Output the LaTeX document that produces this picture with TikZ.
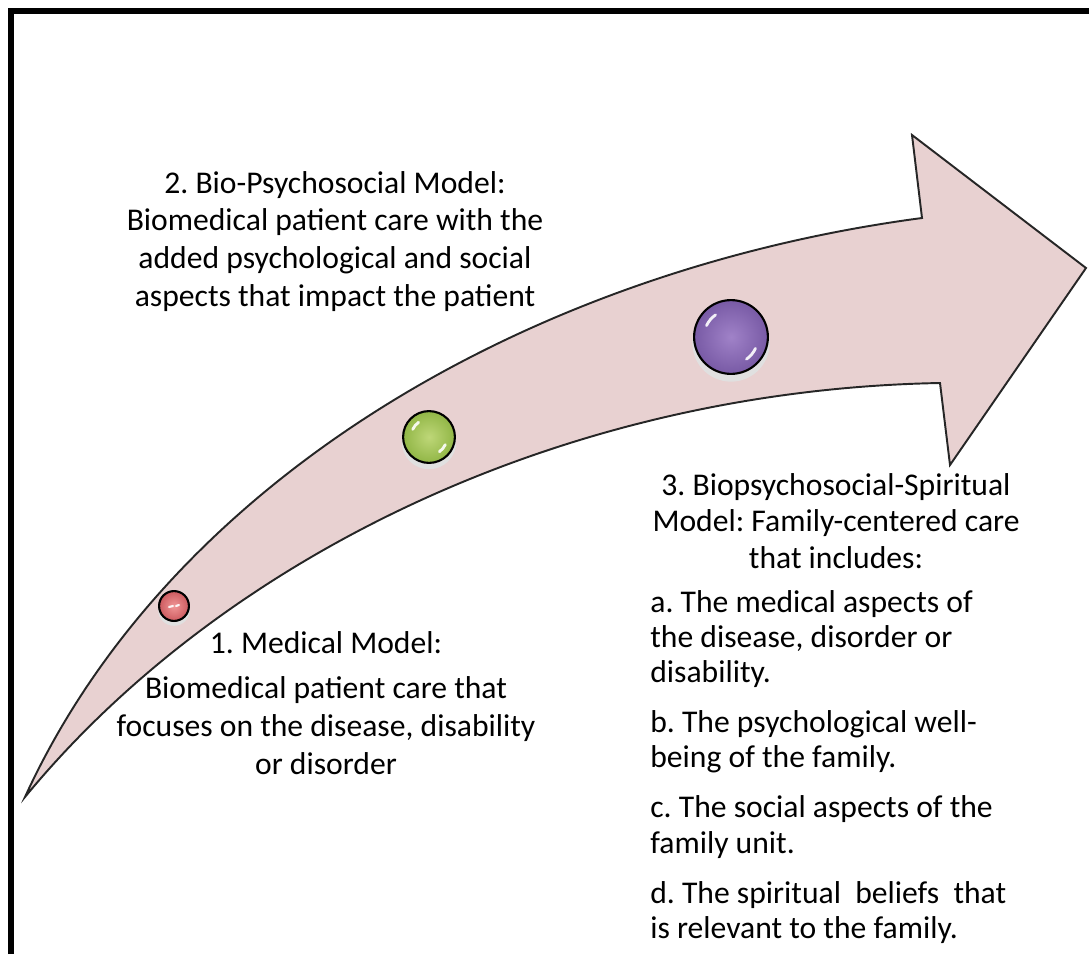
\documentclass[tikz,border=0pt]{standalone}
\usepackage{fontspec}
\setmainfont{Carlito}
\usetikzlibrary{calc}
\frenchspacing
\definecolor{arrowfill}{RGB}{232,209,209}
\definecolor{redin}{RGB}{240,150,150}
\definecolor{redout}{RGB}{205,90,95}
\definecolor{greenin}{RGB}{190,215,120}
\definecolor{greenout}{RGB}{145,182,70}
\definecolor{purpin}{RGB}{160,130,200}
\definecolor{purpout}{RGB}{120,90,165}
\begin{document}
\frenchspacing
\begin{tikzpicture}[x=0.02cm,y=-0.02cm]
\tikzset{
  gem/.style={circle, draw=black, line width=1.2pt, inner sep=0pt},
  hl/.style={white, line width=1.6pt, line cap=round, opacity=0.9},
  shadowdisc/.style={circle, fill=black!12, inner sep=0pt, draw=none},
  lbl/.style={font=\fontsize{18}{21.4}\selectfont, align=center, inner sep=0pt, anchor=north}
}
\useasboundingbox (0,0) rectangle (1089,954);
% frame (top and left only)
\draw[line width=3.4pt, line join=miter] (11,954) -- (11,11) -- (1089,11);
% curved arrow
\draw[fill=arrowfill, draw=black!85, line width=1.1pt, line join=miter]
  (25,797) .. controls (170,480) and (530,270) .. (922,218)
  -- (912,135) -- (1086,268) -- (950,465) -- (940,383)
  .. controls (560,390) and (220,560) .. (25,797) -- cycle;
% shadows
\node[shadowdisc, minimum size=18pt] at (174,610) {};
\node[shadowdisc, minimum size=31pt] at (429,442) {};
\node[shadowdisc, minimum size=44pt] at (731,343) {};
% balls
\node[gem, minimum size=17pt, inner color=redin, outer color=redout] (b1) at (174,606) {};
\node[gem, minimum size=29.5pt, inner color=greenin, outer color=greenout] (b2) at (429,437) {};
\node[gem, minimum size=42pt, inner color=purpin, outer color=purpout] (b3) at (731,337) {};
% highlights
\draw[hl] ($(b3.center)+(205:27)$) arc[start angle=205, end angle=235, radius=27];
\draw[hl] ($(b3.center)+(25:27)$) arc[start angle=25, end angle=55, radius=27];
\draw[hl] ($(b2.center)+(205:18)$) arc[start angle=205, end angle=235, radius=18];
\draw[hl] ($(b2.center)+(25:18)$) arc[start angle=25, end angle=55, radius=18];
\draw[hl, line width=1.2pt] ($(b1.center)+(-5,1)$) -- ($(b1.center)+(-1,0)$);
\draw[hl, line width=1.2pt] ($(b1.center)+(2,0)$) -- ($(b1.center)+(5,-1)$);
% texts
\node[lbl] (t2) at (335,171) {2. Bio-Psychosocial Model:\\Biomedical patient care with the\\added psychological and social\\aspects that impact the patient};
\node[lbl] (t1) at (326,631) {1. Medical Model:\\[4.5pt]Biomedical patient care that\\focuses on the disease, disability\\or disorder};
\node[lbl, font=\fontsize{18}{20.8}\selectfont] (t3) at (836,473) {3. Biopsychosocial-Spiritual\\Model: Family-centered care\\that includes:};
\node[lbl, align=left, anchor=north west, font=\fontsize{18}{20}\selectfont] (t3l) at (650,590) {a. The medical aspects of\\the disease, disorder or\\disability.\\[8.5pt]b. The psychological well-\\being of the family.\\[8.5pt]c. The social aspects of the\\family unit.\\[8.5pt]d. The spiritual\ \ beliefs\ \ that\\is relevant to the family.};
\end{tikzpicture}
\end{document}
